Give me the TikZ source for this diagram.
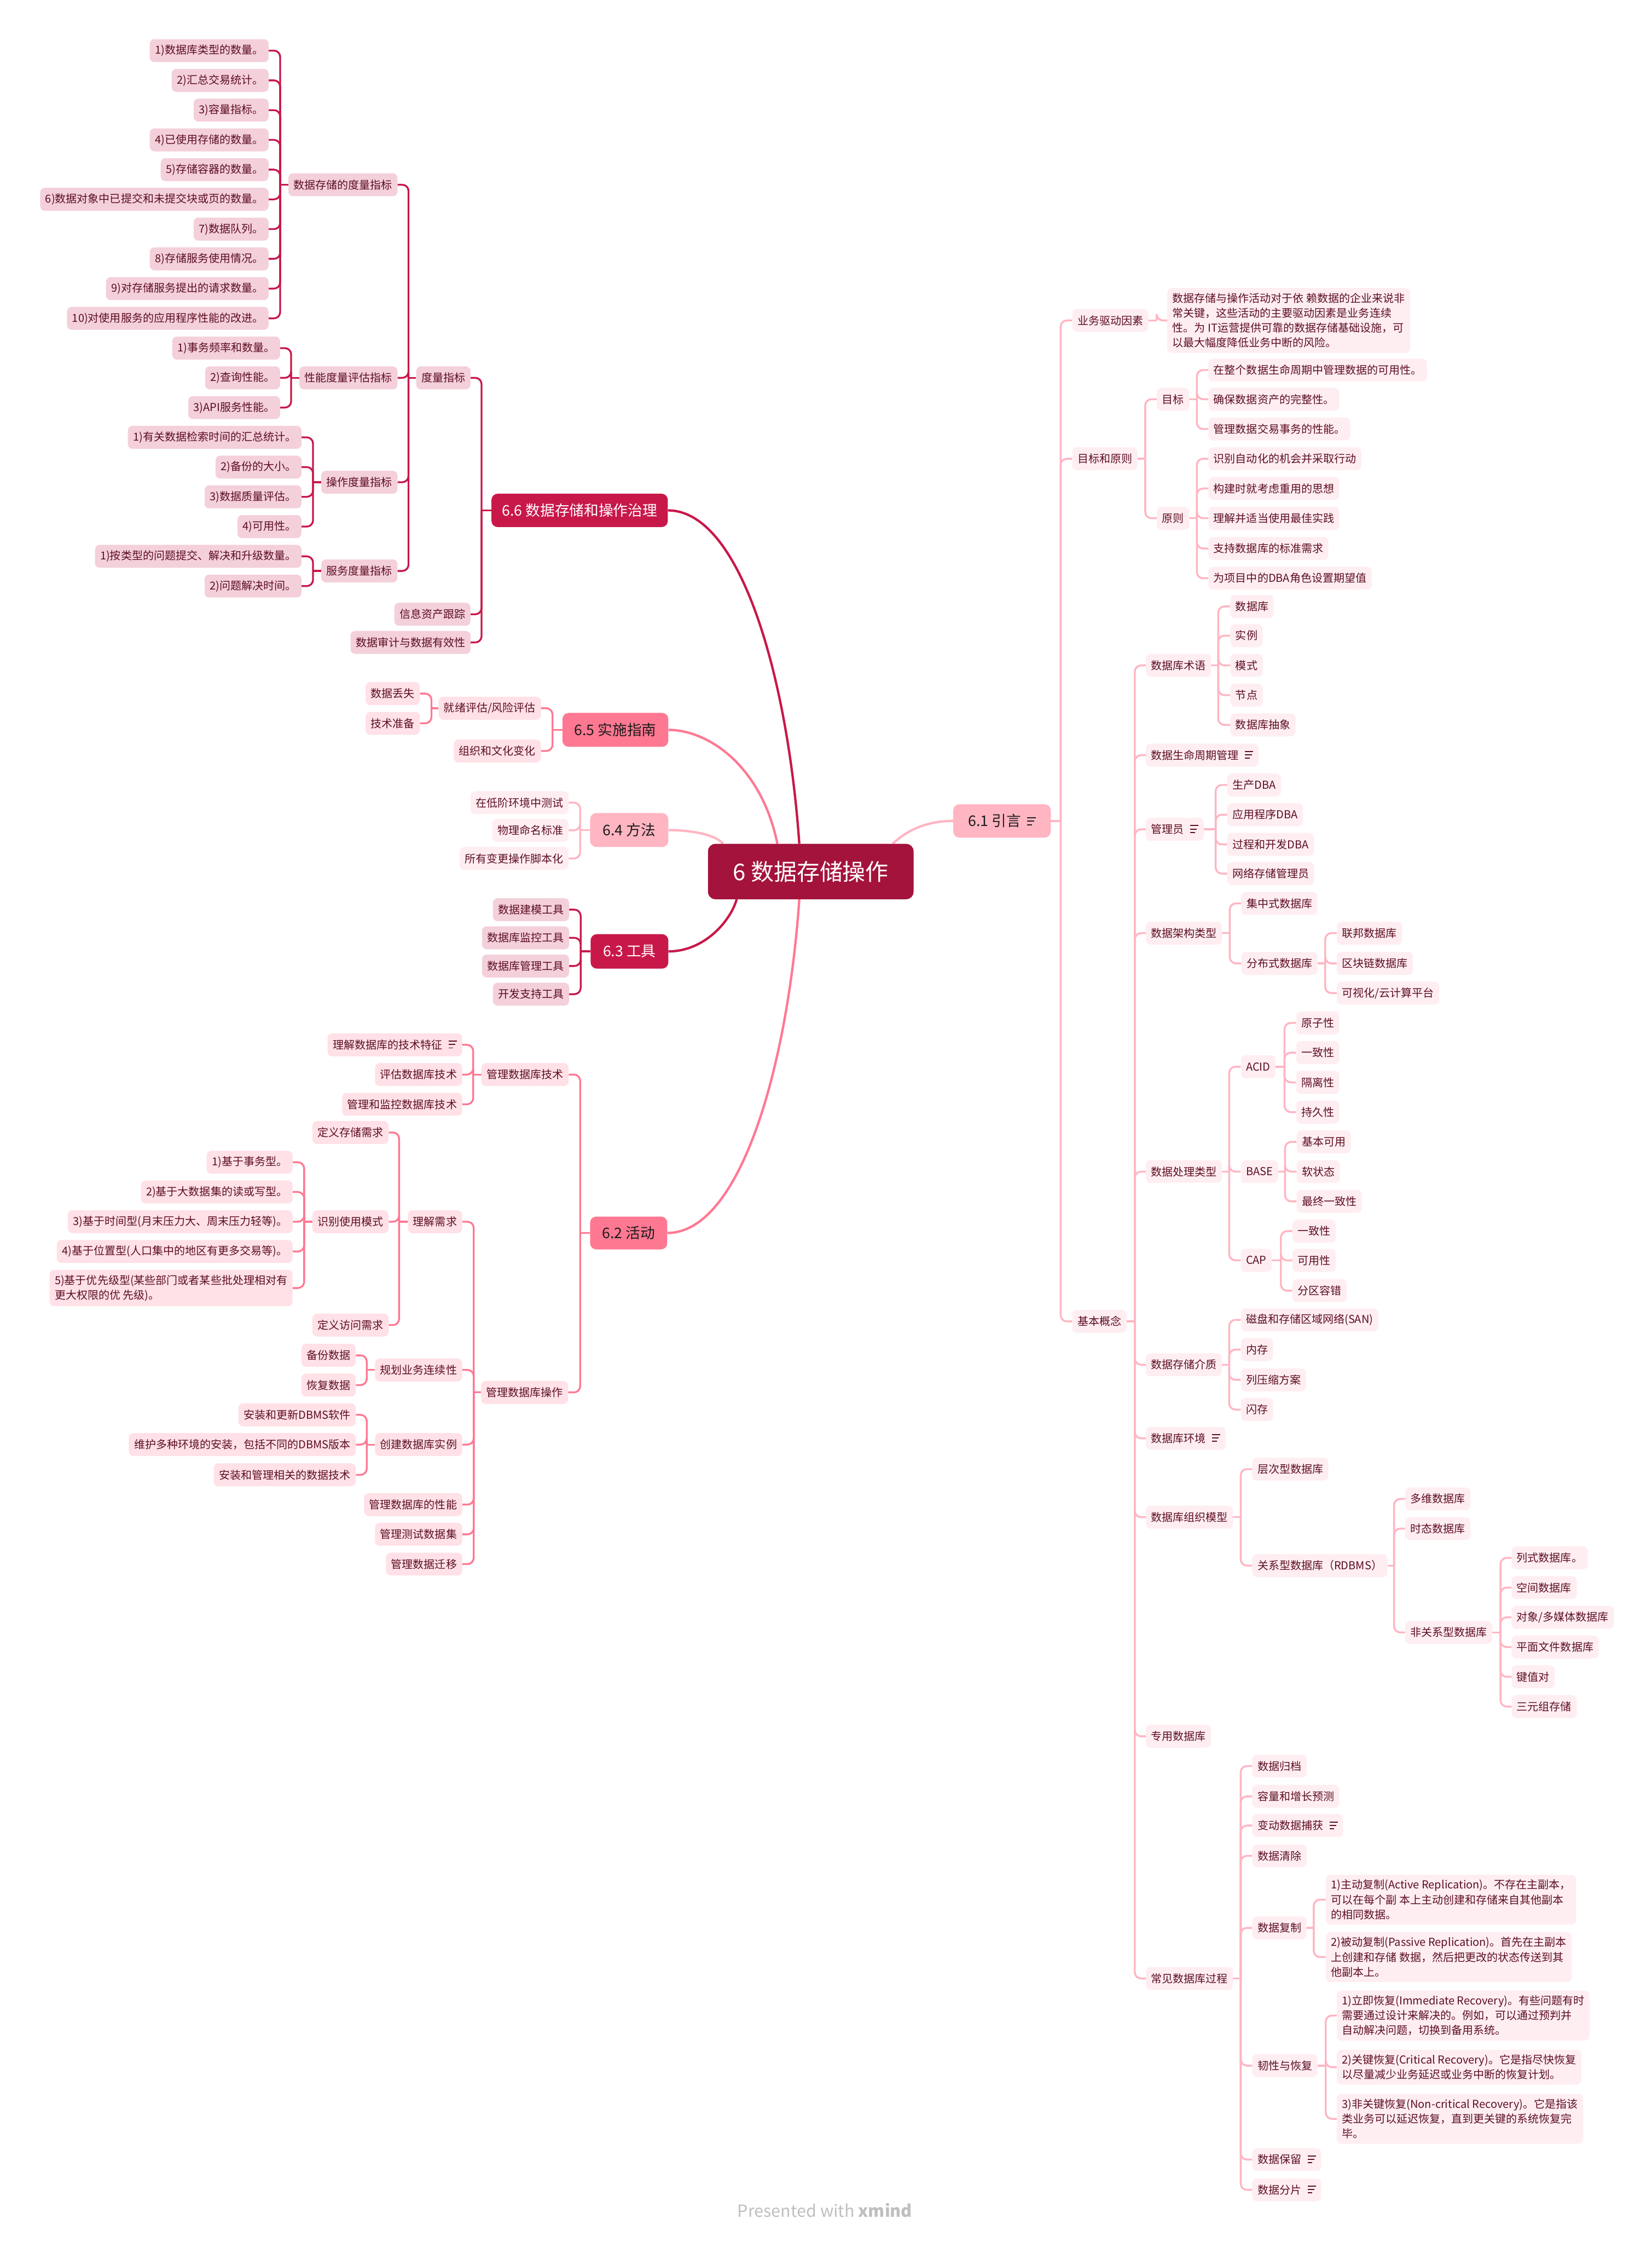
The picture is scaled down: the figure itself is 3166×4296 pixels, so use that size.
\documentclass[tikz,border=0pt]{standalone}
\usepackage{fontspec}
\setmainfont{Noto Sans CJK SC}
\usetikzlibrary{calc}
\definecolor{rootc}{HTML}{A4133C}
\definecolor{crim}{HTML}{C8184A}
\definecolor{salm}{HTML}{FF7892}
\definecolor{lpink}{HTML}{FFB5C2}
\definecolor{fillA}{HTML}{F4D0DA}
\definecolor{fillB}{HTML}{FFE1E7}
\definecolor{fillC}{HTML}{FFEEF1}
\definecolor{txt}{HTML}{5C0E22}
\definecolor{dark}{HTML}{1C1C1C}
\pgfdeclarelayer{bg}
\pgfsetlayers{bg,main}
\newcommand\nodefont{\fontsize{21}{28.5}\selectfont}
\newcommand\topicfont{\fontsize{28}{32}\selectfont}
\newcommand\rootfont{\fontsize{44}{50}\selectfont}
\newcommand\noteicon[1][1pt]{\hspace{12pt}\raisebox{#1}{\vbox{\hrule width 16pt height 2pt\vskip 4.5pt\hrule width 13pt height 2pt\vskip 4.5pt\hrule width 9pt height 2pt}}}
\newcommand\leftbranch[4]{%
  \coordinate (tx) at (#3,0);
  \draw[#1] (#2.west) -- (#2.west -| tx) coordinate (tj);
  \foreach \kid in {#4}{\draw[#1,rounded corners=12pt] (tj) |- (\kid.east);}
}
\newcommand\rightbranch[4]{%
  \coordinate (tx) at (#3,0);
  \draw[#1] (#2.east) -- (#2.east -| tx) coordinate (tj);
  \foreach \kid in {#4}{\draw[#1,rounded corners=12pt] (tj) |- (\kid.west);}
}
\tikzset{
  bx/.style={rounded corners=9pt, minimum height=44pt, inner xsep=10pt, inner ysep=0pt, font=\nodefont, text=txt},
  bxA/.style={bx, fill=fillA},
  bxB/.style={bx, fill=fillB},
  bxC/.style={bx, fill=fillC},
  toL/.style={anchor=east},
  toR/.style={anchor=west},
  multi/.style={align=left, inner ysep=9.5pt},
  topic/.style={rounded corners=12pt, inner sep=0pt, font=\topicfont},
  lnA/.style={draw=crim, line width=3.5pt},
  lnB/.style={draw=salm, line width=3.5pt},
  lnC/.style={draw=lpink, line width=3.6pt},
  curveA/.style={draw=crim, line width=4.5pt},
  curveB/.style={draw=salm, line width=4.5pt},
  curveC/.style={draw=lpink, line width=4.5pt},
}
\begin{document}
\begin{tikzpicture}[x=1pt,y=-1pt]
\begin{pgfonlayer}{bg}
\fill[white] (0,0) rectangle (3166,4296);
\end{pgfonlayer}
\useasboundingbox (0,0) rectangle (3166,4296);

% ---------- root and main topics ----------
\node[rounded corners=14pt, fill=rootc, text=white, font=\rootfont, minimum width=394pt, minimum height=106pt, inner sep=0pt] (root) at (1554,1670) {6 数据存储操作};
\node[topic, fill=crim, text=white, minimum width=338pt, minimum height=64pt] (m66) at (1111,978) {6.6 数据存储和操作治理};
\node[topic, fill=salm, text=dark, minimum width=203pt, minimum height=65pt] (m65) at (1179.5,1398.5) {6.5 实施指南};
\node[topic, fill=lpink, text=dark, minimum width=150pt, minimum height=65pt] (m64) at (1206,1590.5) {6.4 方法};
\node[topic, fill=crim, text=white, minimum width=149pt, minimum height=66pt] (m63) at (1206.5,1823) {6.3 工具};
\node[topic, fill=salm, text=dark, minimum width=148pt, minimum height=63pt] (m62) at (1205,2362.5) {6.2 活动};
\node[topic, fill=lpink, text=dark, minimum width=187pt, minimum height=64pt] (m61) at (1920.5,1573) {6.1 引言\noteicon[2.5pt]};

% ---------- 6.6 ----------
\node[bxA,toL] (a1) at (902,724) {度量指标};
\node[bxA,toL] (a2) at (902,1177) {信息资产跟踪};
\node[bxA,toL] (a3) at (902,1231) {数据审计与数据有效性};
\node[bxA,toL] (b1) at (762,354) {数据存储的度量指标};
\node[bxA,toL] (b2) at (762,724) {性能度量评估指标};
\node[bxA,toL] (b3) at (762,924) {操作度量指标};
\node[bxA,toL] (b4) at (762,1094) {服务度量指标};
\node[bxA,toL] (c1) at (515,97) {1)数据库类型的数量。};
\node[bxA,toL] (c2) at (515,154) {2)汇总交易统计。};
\node[bxA,toL] (c3) at (515,211) {3)容量指标。};
\node[bxA,toL] (c4) at (515,268) {4)已使用存储的数量。};
\node[bxA,toL] (c5) at (515,325) {5)存储容器的数量。};
\node[bxA,toL] (c6) at (515,382) {6)数据对象中已提交和未提交块或页的数量。};
\node[bxA,toL] (c7) at (515,439) {7)数据队列。};
\node[bxA,toL] (c8) at (515,496) {8)存储服务使用情况。};
\node[bxA,toL] (c9) at (515,553) {9)对存储服务提出的请求数量。};
\node[bxA,toL] (c10) at (515,610) {10)对使用服务的应用程序性能的改进。};
\node[bxA,toL] (d1) at (537,667) {1)事务频率和数量。};
\node[bxA,toL] (d2) at (537,724) {2)查询性能。};
\node[bxA,toL] (d3) at (537,781) {3)API服务性能。};
\node[bxA,toL] (e1) at (578,838) {1)有关数据检索时间的汇总统计。};
\node[bxA,toL] (e2) at (578,895) {2)备份的大小。};
\node[bxA,toL] (e3) at (578,952) {3)数据质量评估。};
\node[bxA,toL] (e4) at (578,1009) {4)可用性。};
\node[bxA,toL] (f1) at (578,1066) {1)按类型的问题提交、解决和升级数量。};
\node[bxA,toL] (f2) at (578,1123) {2)问题解决时间。};

% ---------- 6.5 ----------
\node[bxB,toL] (g1) at (1037,1357) {就绪评估/风险评估};
\node[bxB,toL] (g2) at (1037,1439) {组织和文化变化};
\node[bxB,toL] (g3) at (805,1329) {数据丢失};
\node[bxB,toL] (g4) at (805,1386) {技术准备};

% ---------- 6.4 ----------
\node[bxC,toL] (h1) at (1090,1538) {在低阶环境中测试};
\node[bxC,toL] (h2) at (1090,1591) {物理命名标准};
\node[bxC,toL] (h3) at (1090,1645) {所有变更操作脚本化};

% ---------- 6.3 ----------
\node[bxA,toL] (i1) at (1091,1743) {数据建模工具};
\node[bxA,toL] (i2) at (1091,1797) {数据库监控工具};
\node[bxA,toL] (i3) at (1091,1851) {数据库管理工具};
\node[bxA,toL] (i4) at (1091,1905) {开发支持工具};

% ---------- 6.2 ----------
\node[bxB,toL] (j1) at (1090,2059) {管理数据库技术};
\node[bxB,toL] (j2) at (1089,2668) {管理数据库操作};
\node[bxB,toL] (k1) at (886,2002) {理解数据库的技术特征\noteicon};
\node[bxB,toL] (k2) at (886,2059) {评估数据库技术};
\node[bxB,toL] (k3) at (886,2116) {管理和监控数据库技术};
\node[bxB,toL] (l1) at (886,2341) {理解需求};
\node[bxB,toL] (l2) at (886,2625) {规划业务连续性};
\node[bxB,toL] (l3) at (886,2768) {创建数据库实例};
\node[bxB,toL] (l4) at (886,2883) {管理数据库的性能};
\node[bxB,toL] (l5) at (886,2940) {管理测试数据集};
\node[bxB,toL] (l6) at (886,2997) {管理数据迁移};
\node[bxB,toL] (o1) at (745,2170) {定义存储需求};
\node[bxB,toL] (o2) at (745,2341) {识别使用模式};
\node[bxB,toL] (o3) at (745,2539) {定义访问需求};
\node[bxB,toL] (q1) at (561,2227) {1)基于事务型。};
\node[bxB,toL] (q2) at (561,2284) {2)基于大数据集的读或写型。};
\node[bxB,toL] (q3) at (561,2341) {3)基于时间型(月末压力大、周末压力轻等)。};
\node[bxB,toL] (q4) at (561,2398) {4)基于位置型(人口集中的地区有更多交易等)。};
\node[bxB,toL,multi] (q5) at (561,2468) {5)基于优先级型(某些部门或者某些批处理相对有\\更大权限的优 先级)。};
\node[bxB,toL] (r1) at (682,2597) {备份数据};
\node[bxB,toL] (r2) at (682,2654) {恢复数据};
\node[bxB,toL] (s1) at (682,2711) {安装和更新DBMS软件};
\node[bxB,toL] (s2) at (682,2768) {维护多种环境的安装，包括不同的DBMS版本};
\node[bxB,toL] (s3) at (682,2826) {安装和管理相关的数据技术};

% ---------- 6.1 ----------
\node[bxC,toR] (t1) at (2055,614) {业务驱动因素};
\node[bxC,toR] (t2) at (2055,879) {目标和原则};
\node[bxC,toR] (t3) at (2055,2532) {基本概念};
\node[bxC,toR,multi] (p1) at (2237,614) {数据存储与操作活动对于依 赖数据的企业来说非\\常关键，这些活动的主要驱动因素是业务连续\\性。为 IT运营提供可靠的数据存储基础设施，可\\以最大幅度降低业务中断的风险。};
\node[bxC,toR] (u1) at (2217,765) {目标};
\node[bxC,toR] (u2) at (2217,993) {原则};
\node[bxC,toR] (v1) at (2316,709) {在整个数据生命周期中管理数据的可用性。};
\node[bxC,toR] (v2) at (2316,765) {确保数据资产的完整性。};
\node[bxC,toR] (v3) at (2316,822) {管理数据交易事务的性能。};
\node[bxC,toR] (w1) at (2316,879) {识别自动化的机会并采取行动};
\node[bxC,toR] (w2) at (2316,936) {构建时就考虑重用的思想};
\node[bxC,toR] (w3) at (2316,993) {理解并适当使用最佳实践};
\node[bxC,toR] (w4) at (2316,1051) {支持数据库的标准需求};
\node[bxC,toR] (w5) at (2316,1108) {为项目中的DBA角色设置期望值};

\node[bxC,toR] (x1) at (2196,1275) {数据库术语};
\node[bxC,toR] (x2) at (2196,1447) {数据生命周期管理\noteicon};
\node[bxC,toR] (x3) at (2196,1589) {管理员\noteicon};
\node[bxC,toR] (x4) at (2196,1788) {数据架构类型};
\node[bxC,toR] (x5) at (2196,2245) {数据处理类型};
\node[bxC,toR] (x6) at (2196,2615) {数据存储介质};
\node[bxC,toR] (x7) at (2196,2756) {数据库环境\noteicon};
\node[bxC,toR] (x8) at (2196,2907) {数据库组织模型};
\node[bxC,toR] (x9) at (2196,3327) {专用数据库};
\node[bxC,toR] (x10) at (2196,3791) {常见数据库过程};

\node[bxC,toR] (y1) at (2358,1162) {数据库};
\node[bxC,toR] (y2) at (2358,1218) {实例};
\node[bxC,toR] (y3) at (2358,1275) {模式};
\node[bxC,toR] (y4) at (2358,1332) {节点};
\node[bxC,toR] (y5) at (2358,1389) {数据库抽象};

\node[bxC,toR] (z1) at (2352,1504) {生产DBA};
\node[bxC,toR] (z2) at (2352,1561) {应用程序DBA};
\node[bxC,toR] (z3) at (2352,1618) {过程和开发DBA};
\node[bxC,toR] (z4) at (2352,1674) {网络存储管理员};

\node[bxC,toR] (aa1) at (2379,1731) {集中式数据库};
\node[bxC,toR] (aa2) at (2379,1846) {分布式数据库};
\node[bxC,toR] (ab1) at (2562,1788) {联邦数据库};
\node[bxC,toR] (ab2) at (2562,1846) {区块链数据库};
\node[bxC,toR] (ab3) at (2562,1903) {可视化/云计算平台};

\node[bxC,toR] (ac1) at (2378,2044) {ACID};
\node[bxC,toR] (ac2) at (2378,2245) {BASE};
\node[bxC,toR] (ac3) at (2378,2415) {CAP};
\node[bxC,toR] (ad1) at (2484,1960) {原子性};
\node[bxC,toR] (ad2) at (2484,2017) {一致性};
\node[bxC,toR] (ad3) at (2484,2074) {隔离性};
\node[bxC,toR] (ad4) at (2484,2131) {持久性};
\node[bxC,toR] (ae1) at (2485,2188) {基本可用};
\node[bxC,toR] (ae2) at (2485,2245) {软状态};
\node[bxC,toR] (ae3) at (2485,2302) {最终一致性};
\node[bxC,toR] (af1) at (2477,2359) {一致性};
\node[bxC,toR] (af2) at (2477,2415) {可用性};
\node[bxC,toR] (af3) at (2477,2473) {分区容错};

\node[bxC,toR] (ag1) at (2378,2529) {磁盘和存储区域网络(SAN)};
\node[bxC,toR] (ag2) at (2378,2586) {内存};
\node[bxC,toR] (ag3) at (2378,2644) {列压缩方案};
\node[bxC,toR] (ag4) at (2378,2701) {闪存};

\node[bxC,toR] (ah1) at (2400,2815) {层次型数据库};
\node[bxC,toR] (ah2) at (2400,3000) {关系型数据库（RDBMS）};
\node[bxC,toR] (ai1) at (2693,2872) {多维数据库};
\node[bxC,toR] (ai2) at (2693,2929) {时态数据库};
\node[bxC,toR] (ai3) at (2693,3128) {非关系型数据库};
\node[bxC,toR] (aj1) at (2897,2985) {列式数据库。};
\node[bxC,toR] (aj2) at (2897,3042) {空间数据库};
\node[bxC,toR] (aj3) at (2897,3099) {对象/多媒体数据库};
\node[bxC,toR] (aj4) at (2897,3156) {平面文件数据库};
\node[bxC,toR] (aj5) at (2897,3213) {键值对};
\node[bxC,toR] (aj6) at (2897,3270) {三元组存储};

\node[bxC,toR] (ak1) at (2400,3384) {数据归档};
\node[bxC,toR] (ak2) at (2400,3442) {容量和增长预测};
\node[bxC,toR] (ak3) at (2400,3498) {变动数据捕获\noteicon};
\node[bxC,toR] (ak4) at (2400,3556) {数据清除};
\node[bxC,toR] (ak5) at (2400,3694) {数据复制};
\node[bxC,toR] (ak6) at (2400,3958) {韧性与恢复};
\node[bxC,toR] (ak7) at (2400,4138) {数据保留\noteicon};
\node[bxC,toR] (ak8) at (2400,4196) {数据分片\noteicon};

\node[bxC,toR,multi] (al1) at (2541,3640) {1)主动复制(Active Replication)。不存在主副本，\\可以在每个副 本上主动创建和存储来自其他副本\\的相同数据。};
\node[bxC,toR,multi] (al2) at (2541,3750) {2)被动复制(Passive Replication)。首先在主副本\\上创建和存储 数据，然后把更改的状态传送到其\\他副本上。};
\node[bxC,toR,multi] (am1) at (2562,3862) {1)立即恢复(Immediate Recovery)。有些问题有时\\需要通过设计来解决的。例如，可以通过预判并\\自动解决问题，切换到备用系统。};
\node[bxC,toR,multi] (am2) at (2562,3961) {2)关键恢复(Critical Recovery)。它是指尽快恢复\\以尽量减少业务延迟或业务中断的恢复计划。};
\node[bxC,toR,multi] (am3) at (2562,4060) {3)非关键恢复(Non-critical Recovery)。它是指该\\类业务可以延迟恢复，直到更关键的系统恢复完\\毕。};

\node[text=black!25, font=\fontsize{32}{36}\selectfont] (pw) at (1581,4235) {Presented with \textbf{xmind}};

% ---------- connectors ----------
\begin{pgfonlayer}{bg}
\draw[curveA] (m66.east) .. controls (1420,978) and (1510,1300) .. ([xshift=-22pt]root.north);
\draw[curveB] (m65.east) .. controls (1360,1399) and (1460,1470) .. ([xshift=-64pt]root.north);
\draw[curveC] (m64.east) .. controls (1330,1591) and (1372,1600) .. ([xshift=-168pt]root.north);
\draw[curveA] (m63.east) .. controls (1350,1823) and (1400,1765) .. ([xshift=-142pt]root.south);
\draw[curveB] (m62.east) .. controls (1420,2362) and (1510,2040) .. ([xshift=-22pt]root.south);
\draw[curveC] ([xshift=157pt]root.north) .. controls (1745,1585) and (1785,1573) .. (m61.west);

\leftbranch{lnA}{m66}{923}{a1,a2,a3}
\leftbranch{lnA}{a1}{783}{b1,b2,b3,b4}
\leftbranch{lnA}{b1}{537}{c1,c2,c3,c4,c5,c6,c7,c8,c9,c10}
\leftbranch{lnA}{b2}{558}{d1,d2,d3}
\leftbranch{lnA}{b3}{600}{e1,e2,e3,e4}
\leftbranch{lnA}{b4}{600}{f1,f2}

\leftbranch{lnB}{m65}{1059}{g1,g2}
\leftbranch{lnB}{g1}{827}{g3,g4}

\leftbranch{lnC}{m64}{1112}{h1,h2,h3}

\leftbranch{lnA}{m63}{1113}{i1,i2,i3,i4}

\leftbranch{lnB}{m62}{1112}{j1,j2}
\leftbranch{lnB}{j1}{907}{k1,k2,k3}
\leftbranch{lnB}{j2}{908}{l1,l2,l3,l4,l5,l6}
\leftbranch{lnB}{l1}{765}{o1,o2,o3}
\leftbranch{lnB}{o2}{583}{q1,q2,q3,q4,q5}
\leftbranch{lnB}{l2}{703}{r1,r2}
\leftbranch{lnB}{l3}{703}{s1,s2,s3}

\rightbranch{lnC}{m61}{2033}{t1,t2,t3}
\rightbranch{lnC}{t1}{2217}{p1}
\rightbranch{lnC}{t2}{2195}{u1,u2}
\rightbranch{lnC}{u1}{2294}{v1,v2,v3}
\rightbranch{lnC}{u2}{2294}{w1,w2,w3,w4,w5}
\rightbranch{lnC}{t3}{2175}{x1,x2,x3,x4,x5,x6,x7,x8,x9,x10}
\rightbranch{lnC}{x1}{2335}{y1,y2,y3,y4,y5}
\rightbranch{lnC}{x3}{2330}{z1,z2,z3,z4}
\rightbranch{lnC}{x4}{2357}{aa1,aa2}
\rightbranch{lnC}{aa2}{2540}{ab1,ab2,ab3}
\rightbranch{lnC}{x5}{2356}{ac1,ac2,ac3}
\rightbranch{lnC}{ac1}{2462}{ad1,ad2,ad3,ad4}
\rightbranch{lnC}{ac2}{2463}{ae1,ae2,ae3}
\rightbranch{lnC}{ac3}{2455}{af1,af2,af3}
\rightbranch{lnC}{x6}{2356}{ag1,ag2,ag3,ag4}
\rightbranch{lnC}{x8}{2378}{ah1,ah2}
\rightbranch{lnC}{ah2}{2672}{ai1,ai2,ai3}
\rightbranch{lnC}{ai3}{2876}{aj1,aj2,aj3,aj4,aj5,aj6}
\rightbranch{lnC}{x10}{2378}{ak1,ak2,ak3,ak4,ak5,ak6,ak7,ak8}
\rightbranch{lnC}{ak5}{2518}{al1,al2}
\rightbranch{lnC}{ak6}{2541}{am1,am2,am3}
\end{pgfonlayer}
\end{tikzpicture}
\end{document}
